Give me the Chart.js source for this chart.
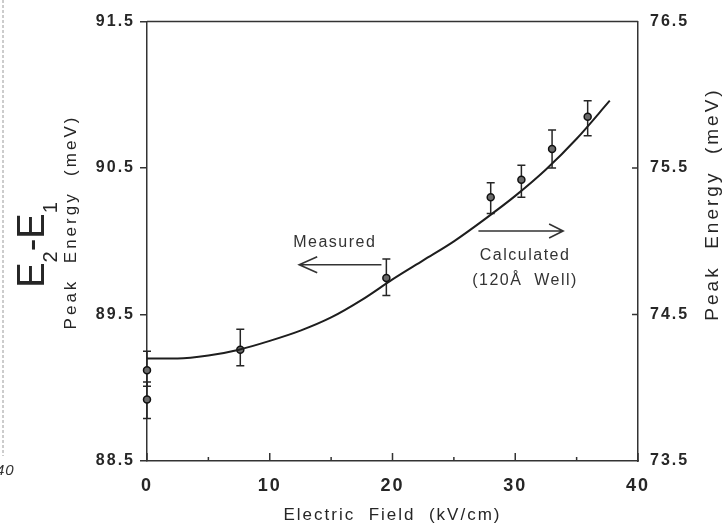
<!DOCTYPE html>
<html><head><meta charset="utf-8">
<script src="https://cdn.jsdelivr.net/npm/chart.js@4/dist/chart.umd.min.js"></script>
<style>html,body{margin:0;padding:0;background:#fff;}canvas{display:block;}</style>
</head><body>
<canvas id="c" width="722" height="529"></canvas>
<script>
// ---- data ----
const measuredX    = [0, 0, 7.6, 19.5, 28.0, 30.5, 33.0, 35.9];
const measuredY    = [89.12, 88.92, 89.26, 89.75, 90.30, 90.42, 90.63, 90.85];
const measuredHigh = [89.25, 89.04, 89.40, 89.88, 90.40, 90.52, 90.76, 90.96];
const measuredLow  = [89.01, 88.79, 89.15, 89.63, 90.19, 90.30, 90.50, 90.72];
const calcX = [0, 2.5, 5, 7.5, 10, 12.5, 15, 17.5, 20, 22.5, 25, 27.5, 30, 32.5, 35, 37.7];
const calcY = [74.20, 74.20, 74.22, 74.26, 74.32, 74.39, 74.48, 74.60, 74.74, 74.87, 75.00, 75.15, 75.31, 75.49, 75.70, 75.96];
const xTicks = [0, 10, 20, 30, 40];
const xMinorTicks = [5, 15, 25, 35];
const leftTicks = [88.5, 89.5, 90.5, 91.5];
const rightTicks = [73.5, 74.5, 75.5, 76.5];
const rightInnerTicks = [74.5, 75.5];
const xTitle = 'Electric  Field  (kV/cm)';
const yTitle = 'Peak  Energy  (meV)';
const bigLabel = ['E', '2', '-', 'E', '1'];
const notes = {
  measured: {text: 'Measured', x: 15.3, y: 89.99},
  measuredArrow: {from: 19.1, to: 12.4, y: 89.84},
  calcArrow: {from: 27.0, to: 33.9, y: 90.07},
  calc1: {text: 'Calculated', x: 30.8, y: 89.90},
  calc2: {text: '(120Å  Well)', x: 30.8, y: 89.73}
};

const FAM = "'Liberation Sans', Arial, sans-serif";
const INK = '#262626';
Chart.defaults.font.family = FAM;
Chart.defaults.color = INK;

function arrow(ctx, x1, x2, y, arm, spread) {
  ctx.beginPath();
  ctx.moveTo(x1, y); ctx.lineTo(x2, y);
  const d = x2 > x1 ? -1 : 1;
  ctx.moveTo(x2 + d * arm, y - spread); ctx.lineTo(x2, y); ctx.lineTo(x2 + d * arm, y + spread);
  ctx.stroke();
}

const decor = {
  id: 'decor',
  beforeUpdate(chart) { chart.ctx.letterSpacing = '2px'; },
  beforeDraw(chart) {
    const c = chart.ctx;
    c.save(); c.fillStyle = '#fff'; c.fillRect(0, 0, chart.width, chart.height); c.restore();
    c.letterSpacing = '2px';
  },
  beforeDatasetsDraw(chart) {
    const c = chart.ctx, xs = chart.scales.x, ys = chart.scales.y;
    c.save();
    c.strokeStyle = INK; c.lineWidth = 1.5;
    for (let i = 0; i < measuredX.length; i++) {
      const px = xs.getPixelForValue(measuredX[i]);
      const ph = ys.getPixelForValue(measuredHigh[i]);
      const pl = ys.getPixelForValue(measuredLow[i]);
      c.beginPath();
      c.moveTo(px, ph); c.lineTo(px, pl);
      c.moveTo(px - 4, ph); c.lineTo(px + 4, ph);
      c.moveTo(px - 4, pl); c.lineTo(px + 4, pl);
      c.stroke();
    }
    c.restore();
  },
  afterDraw(chart) {
    const c = chart.ctx, a = chart.chartArea;
    const xs = chart.scales.x, ys = chart.scales.y, y2 = chart.scales.y2;
    c.save();
    c.strokeStyle = '#333'; c.lineWidth = 1.5;
    // top frame
    c.beginPath(); c.moveTo(a.left, a.top); c.lineTo(a.right, a.top); c.stroke();
    // inward bottom ticks
    c.beginPath();
    xTicks.forEach(v => { const p = xs.getPixelForValue(v); c.moveTo(p, a.bottom); c.lineTo(p, a.bottom - 8); });
    xMinorTicks.forEach(v => { const p = xs.getPixelForValue(v); c.moveTo(p, a.bottom); c.lineTo(p, a.bottom - 4); });
    // inward right ticks
    rightInnerTicks.forEach(v => { const p = y2.getPixelForValue(v); c.moveTo(a.right, p); c.lineTo(a.right - 6, p); });
    c.stroke();

    // scan edge artifacts
    c.save();
    c.strokeStyle = '#9a9a9a'; c.lineWidth = 1; c.setLineDash([3, 2]);
    c.beginPath(); c.moveTo(3, 0); c.lineTo(3, 456); c.stroke();
    c.restore();
    c.fillStyle = '#333';
    c.font = 'italic 15px ' + FAM; c.letterSpacing = '1px';
    c.textAlign = 'left'; c.textBaseline = 'middle';
    c.fillText('40', -4, 471);

    // big E2-E1 label (rotated)
    c.save();
    c.fillStyle = INK; c.letterSpacing = '0px';
    c.translate(44, 245); c.rotate(-Math.PI / 2);
    const mainF = '38px ' + FAM, subF = '20px ' + FAM;
    const parts = bigLabel.map((t, i) => ({t, sub: i === 1 || i === 4}));
    let total = 0;
    parts.forEach(p => { c.font = p.sub ? subF : mainF; p.w = c.measureText(p.t).width; total += p.w; });
    let lx = -total / 2;
    c.textAlign = 'left'; c.textBaseline = 'alphabetic';
    parts.forEach(p => { c.font = p.sub ? subF : mainF; c.fillText(p.t, lx, p.sub ? 13 : 0); lx += p.w; });
    c.restore();

    // left small title
    c.save();
    c.fillStyle = INK; c.font = '17px ' + FAM; c.letterSpacing = '3px';
    c.translate(76, 222); c.rotate(-Math.PI / 2);
    c.textAlign = 'center'; c.textBaseline = 'alphabetic';
    c.fillText(yTitle, 0, 0);
    c.restore();

    // right title
    c.save();
    c.fillStyle = INK; c.font = '19px ' + FAM; c.letterSpacing = '3px';
    c.translate(718, 204); c.rotate(-Math.PI / 2);
    c.textAlign = 'center'; c.textBaseline = 'alphabetic';
    c.fillText(yTitle, 0, 0);
    c.restore();

    // annotations
    c.fillStyle = '#333'; c.font = '16px ' + FAM; c.letterSpacing = '1.5px';
    c.textAlign = 'center'; c.textBaseline = 'middle';
    [notes.measured, notes.calc1, notes.calc2].forEach(n => {
      c.fillText(n.text, xs.getPixelForValue(n.x), ys.getPixelForValue(n.y));
    });
    c.strokeStyle = '#333'; c.lineWidth = 1.6;
    arrow(c, xs.getPixelForValue(notes.measuredArrow.from), xs.getPixelForValue(notes.measuredArrow.to),
          ys.getPixelForValue(notes.measuredArrow.y), 18, 8);
    arrow(c, xs.getPixelForValue(notes.calcArrow.from), xs.getPixelForValue(notes.calcArrow.to),
          ys.getPixelForValue(notes.calcArrow.y), 14, 7);
    c.restore();
  }
};

const tickFont = {family: FAM, size: 16, weight: 'bold'};
new Chart(document.getElementById('c'), {
  type: 'scatter',
  data: {
    datasets: [
      {
        type: 'line', label: 'Calculated', yAxisID: 'y2',
        data: calcX.map((x, i) => ({x, y: calcY[i]})),
        borderColor: '#1e1e1e', borderWidth: 2, pointRadius: 0,
        cubicInterpolationMode: 'monotone', fill: false
      },
      {
        type: 'scatter', label: 'Measured', yAxisID: 'y',
        data: measuredX.map((x, i) => ({x, y: measuredY[i]})),
        pointStyle: 'circle', pointRadius: 3.5,
        backgroundColor: '#6a6a6a', borderColor: '#111', borderWidth: 1.5, clip: false
      }
    ]
  },
  options: {
    responsive: false, animation: false,
    layout: {autoPadding: false, padding: {top: 13, left: 0, right: 0, bottom: 0}},
    plugins: {legend: {display: false}, tooltip: {enabled: false}},
    scales: {
      x: {
        type: 'linear', position: 'bottom', min: 0, max: 40,
        afterBuildTicks: s => { s.ticks = xTicks.map(v => ({value: v})); },
        afterFit: s => { s.height = 68; },
        ticks: {font: {family: FAM, size: 18, weight: 'bold'}, color: INK, padding: 14, maxRotation: 0, callback: v => String(v)},
        grid: {drawOnChartArea: false, drawTicks: false},
        border: {display: true, color: '#333', width: 1.5},
        title: {display: true, text: xTitle, font: {family: FAM, size: 17}, color: INK, padding: {top: 0, bottom: 3}}
      },
      y: {
        type: 'linear', position: 'left', min: 88.5, max: 91.5,
        afterBuildTicks: s => { s.ticks = leftTicks.map(v => ({value: v})); },
        afterFit: s => { s.width = 147; },
        ticks: {font: tickFont, color: INK, padding: 5, callback: v => Number(v).toFixed(1)},
        grid: {drawOnChartArea: false, drawTicks: true, tickLength: 7, color: '#333', lineWidth: 1.5},
        border: {display: true, color: '#333', width: 1.5}
      },
      y2: {
        type: 'linear', position: 'right', min: 73.5, max: 76.5,
        afterBuildTicks: s => { s.ticks = rightTicks.map(v => ({value: v})); },
        afterFit: s => { s.width = 84; },
        ticks: {font: tickFont, color: INK, padding: 12, callback: v => Number(v).toFixed(1)},
        grid: {drawOnChartArea: false, drawTicks: false},
        border: {display: true, color: '#333', width: 1.5}
      }
    }
  },
  plugins: [decor]
});
</script>
</body></html>
